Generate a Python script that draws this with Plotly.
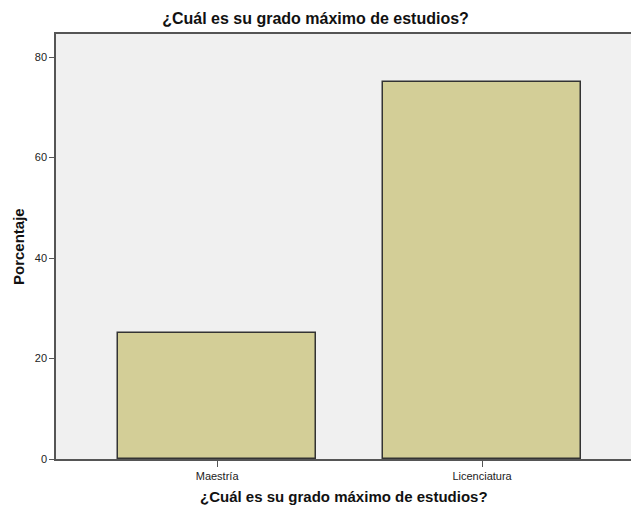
import plotly.graph_objects as go

categories = ["Maestría", "Licenciatura"]
values = [25, 75]
y_ticks = [0, 20, 40, 60, 80]
title_text = "¿Cuál es su grado máximo de estudios?"
y_title = "Porcentaje"

fig = go.Figure(go.Bar(
    x=categories, y=values, width=0.747,
    marker=dict(color="#d3ce97", line=dict(color="#333333", width=1.5)),
    hoverinfo="skip",
))

fig.update_layout(
    width=631, height=506,
    margin=dict(l=56, r=0, t=34, b=47, autoexpand=False),
    paper_bgcolor="white", plot_bgcolor="#f0f0f0",
    font=dict(family="Liberation Sans, Arial", size=11, color="#222222"),
    title=dict(text="<b>" + title_text + "</b>", x=0.5, xanchor="center",
               y=1 - 18/506, yanchor="middle",
               font=dict(size=16, color="#111111")),
    showlegend=False, bargap=0,
)
fig.update_xaxes(
    range=[-0.608, 1.562], showgrid=False, zeroline=False, automargin=False,
    showline=True, linecolor="#555555", linewidth=1.5, mirror=True,
    ticks="outside", ticklen=6, tickcolor="#555555", tickwidth=1,
    tickfont=dict(size=11, color="#222222"),
)
fig.update_yaxes(
    range=[0, 84.6], tickvals=y_ticks, showgrid=False, zeroline=False, automargin=False,
    showline=True, linecolor="#555555", linewidth=1.5,
    ticks="outside", ticklen=5, tickcolor="#555555", tickwidth=1,
    tickfont=dict(size=11, color="#222222"),
)
fig.add_annotation(text="<b>" + title_text + "</b>", xref="paper", yref="paper",
                   x=0.5, y=-(496 - 459) / 425, xanchor="center", yanchor="middle",
                   showarrow=False, font=dict(size=15, color="#111111"))
fig.add_annotation(text="<b>" + y_title + "</b>", xref="paper", yref="paper",
                   x=-(56 - 18) / 575, y=(459 - 247) / 425, xanchor="center", yanchor="middle",
                   textangle=-90, showarrow=False, font=dict(size=15, color="#111111"))

fig.write_html("out.html", config={"displayModeBar": False},
               post_script="document.body.style.margin='0';document.body.style.padding='0';document.body.style.overflow='hidden';")
